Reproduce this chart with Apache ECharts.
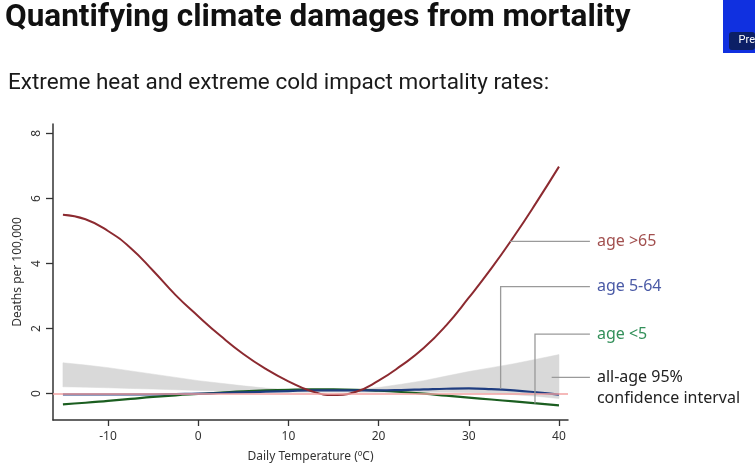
<!DOCTYPE html>
<html>
<head>
<meta charset="utf-8">
<script src="https://cdn.jsdelivr.net/npm/echarts@6/dist/echarts.min.js"></script>
<style>
  html, body { margin: 0; padding: 0; background: #fff; }
  #chart { width: 755px; height: 473px; }
</style>
</head>
<body>
<div id="chart"></div>
<script>
  // daily temperature (°C) at which the curves are read
  const temps = [-15, -12.5, -10, -7.5, -5, -2.5, 0, 2.5, 5, 7.5, 10, 12.5, 15, 17.5, 20, 22.5, 25, 27.5, 30, 32.5, 35, 37.5, 40];
  // deaths per 100,000
  const ageOver65 = [5.50, 5.36, 5.00, 4.48, 3.78, 3.03, 2.38, 1.77, 1.22, 0.76, 0.38, 0.08, -0.04, 0.06, 0.40, 0.86, 1.40, 2.10, 2.95, 3.85, 4.83, 5.88, 6.98];
  const age5to64 = [-0.02, -0.02, -0.02, -0.02, -0.02, -0.01, 0.00, 0.02, 0.04, 0.06, 0.08, 0.10, 0.10, 0.10, 0.10, 0.11, 0.13, 0.15, 0.16, 0.14, 0.10, 0.04, -0.03];
  const ageUnder5 = [-0.33, -0.28, -0.22, -0.16, -0.10, -0.05, -0.01, 0.03, 0.07, 0.10, 0.12, 0.13, 0.13, 0.12, 0.09, 0.05, 0.00, -0.06, -0.12, -0.18, -0.24, -0.30, -0.36];
  // all-age 95% confidence interval
  const ciLower = [0.21, 0.20, 0.18, 0.16, 0.14, 0.12, 0.10, 0.08, 0.06, 0.05, 0.04, 0.04, 0.04, 0.04, 0.04, 0.04, 0.04, 0.04, 0.03, 0.01, -0.03, -0.08, -0.15];
  const ciUpper = [0.95, 0.88, 0.80, 0.70, 0.60, 0.50, 0.40, 0.32, 0.24, 0.17, 0.12, 0.09, 0.08, 0.12, 0.19, 0.29, 0.40, 0.54, 0.68, 0.80, 0.92, 1.06, 1.20];

  const xTicks = [-10, 0, 10, 20, 30, 40];
  const yTicks = [0, 2, 4, 6, 8];

  // leader lines for the labels on the right (data coordinates)
  const leader65 = [[34.57, 4.68], [43.43, 4.68]];
  const leader5to64 = [[33.53, 0.15], [33.53, 3.29], [43.43, 3.29]];
  const leaderUnder5 = [[37.34, -0.30], [37.34, 1.83], [43.43, 1.83]];
  const leaderCi = [[39.19, 0.50], [43.43, 0.50]];

  const pairs = (ys) => temps.map((t, i) => [t, ys[i]]);

  const font = 'Noto Sans';

  // leader line + its label, drawn once per series
  function leader(name, data, color, text) {
    return {
      type: 'custom',
      name: name,
      data: data,
      silent: true,
      clip: false,
      renderItem: function (params, api) {
        if (params.dataIndex !== 0) return null;
        const pts = data.map((p) => api.coord(p));
        const end = pts[pts.length - 1];
        const twoLines = text.indexOf('\n') >= 0;
        return {
          type: 'group',
          children: [
            {
              type: 'polyline',
              shape: { points: pts },
              style: { stroke: '#9a9a9a', lineWidth: 1.3, fill: null }
            },
            {
              type: 'text',
              x: end[0] + 7,
              y: end[1] + (twoLines ? -10 : 0),
              style: {
                text: text,
                fill: color,
                font: '16px "' + font + '"',
                lineHeight: 20.5,
                align: 'left',
                verticalAlign: twoLines ? 'top' : 'middle'
              }
            }
          ]
        };
      },
      z: 5
    };
  }

  // band drawn as one polygon: lower edge forward, upper edge back
  function renderBand(params, api) {
    if (params.dataIndex !== 0) return null;
    const pts = [];
    for (let i = 0; i < temps.length; i++) pts.push(api.coord([temps[i], ciLower[i]]));
    for (let i = temps.length - 1; i >= 0; i--) pts.push(api.coord([temps[i], ciUpper[i]]));
    return {
      type: 'polygon',
      shape: { points: pts },
      style: { fill: '#d9d9d9', stroke: '#d9d9d9', lineWidth: 0.5 }
    };
  }

  const chart = echarts.init(document.getElementById('chart'));
  const option = {
    animation: false,
    backgroundColor: '#fff',
    textStyle: { fontFamily: font },
    grid: { left: 53, top: 124, width: 515, height: 296 },
    xAxis: {
      type: 'value',
      min: -16.1,
      max: 41,
      name: 'Daily Temperature (ºC)',
      nameLocation: 'middle',
      nameGap: 31,
      nameTextStyle: { color: '#333', fontSize: 12 },
      axisLine: { show: true, onZero: false, lineStyle: { color: '#333', width: 1.5 } },
      axisTick: { show: true, length: 6, customValues: xTicks, lineStyle: { color: '#333', width: 1.3 } },
      axisLabel: { customValues: xTicks, color: '#333', fontSize: 12, margin: 11 },
      splitLine: { show: false }
    },
    yAxis: {
      type: 'value',
      min: -0.81,
      max: 8.29,
      name: 'Deaths per 100,000',
      nameLocation: 'middle',
      nameRotate: 90,
      nameGap: 29,
      nameTextStyle: { color: '#333', fontSize: 12 },
      axisLine: { show: true, onZero: false, lineStyle: { color: '#333', width: 1.5 } },
      axisTick: { show: true, length: 7, customValues: yTicks, lineStyle: { color: '#333', width: 1.3 } },
      axisLabel: { customValues: yTicks, color: '#333', fontSize: 12, rotate: 90, margin: 10 },
      splitLine: { show: false }
    },
    graphic: [
      {
        type: 'text', left: 5, top: 2,
        style: { text: 'Quantifying climate damages from mortality', font: '700 31.5px Roboto', fill: '#111' }
      },
      {
        type: 'text', left: 8, top: 72,
        style: { text: 'Extreme heat and extreme cold impact mortality rates:', font: '22.5px Roboto', fill: '#1a1a1a' }
      },
      {
        type: 'rect', right: 0, top: 0,
        shape: { width: 32, height: 53 },
        style: { fill: '#1030e0' }
      },
      {
        type: 'rect', right: 0, top: 32,
        shape: { width: 26, height: 18, r: 3 },
        style: { fill: '#0c1f66' }
      },
      {
        type: 'text', right: 0, top: 35,
        style: { text: 'Pre', font: '11px Roboto', fill: '#fff' }
      }
    ],
    series: [
      {
        type: 'custom',
        name: 'ci',
        data: pairs(ciUpper),
        renderItem: renderBand,
        silent: true,
        z: 1
      },
      {
        type: 'line',
        name: 'zero',
        data: [],
        silent: true,
        markLine: {
          silent: true,
          symbol: 'none',
          label: { show: false },
          lineStyle: { color: '#f2a2a2', width: 1.5, type: 'solid' },
          data: [{ yAxis: 0 }]
        },
        z: 2
      },
      {
        type: 'line',
        name: 'age <5',
        data: pairs(ageUnder5),
        smooth: true,
        symbol: 'none',
        lineStyle: { color: '#1b5e20', width: 2.2 },
        z: 3
      },
      {
        type: 'line',
        name: 'age 5-64',
        data: pairs(age5to64),
        smooth: true,
        symbol: 'none',
        lineStyle: { color: '#1f3d80', width: 2.2 },
        z: 3
      },
      {
        type: 'line',
        name: 'age >65',
        data: pairs(ageOver65),
        smooth: true,
        symbol: 'none',
        lineStyle: { color: '#8c2a30', width: 2 },
        z: 4
      },
      leader('l65', leader65, '#a2504f', 'age >65'),
      leader('l564', leader5to64, '#4a5aa6', 'age 5-64'),
      leader('l5', leaderUnder5, '#33905a', 'age <5'),
      leader('lci', leaderCi, '#222', 'all-age 95%\nconfidence interval')
    ]
  };
  chart.setOption(option);
  window.addEventListener('resize', function () {
    chart.resize();
  });
</script>
</body>
</html>
